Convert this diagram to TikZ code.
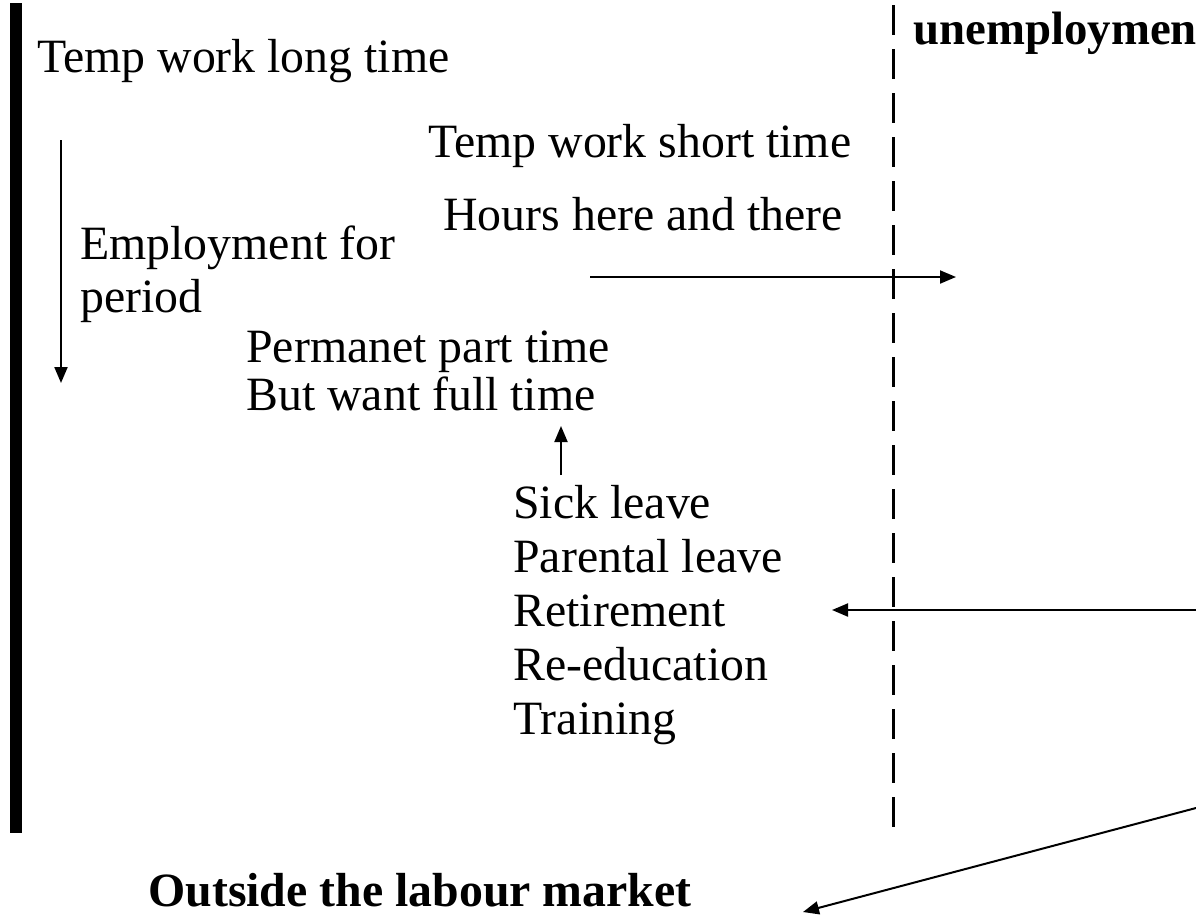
\documentclass[tikz,border=0pt]{standalone}
\usepackage{fontspec}
\setmainfont{Liberation Serif}
\usetikzlibrary{arrows.meta}

\begin{document}
\begin{tikzpicture}[x=0.5pt,y=-0.5pt,
    lbl/.style={anchor=base west,inner sep=0pt,font=\fontsize{23.9}{28}\selectfont},
    hdr/.style={lbl,font=\fontsize{23.9}{28}\selectfont\bfseries},
    flow/.style={line width=1pt,-{Triangle[length=8pt,width=6.5pt]}}]
    \useasboundingbox (0,0) rectangle (1196,918);
    \draw[line width=6pt] (15.5,3) -- (15.5,833);
    \draw[line width=1.5pt,dash pattern=on 15pt off 7pt,dash phase=-2.5pt] (893,0) -- (893,830);
    \node[lbl] (longtime) at (37,72) {Temp work long time};
    \node[hdr,font=\fontsize{23.4}{28}\selectfont\bfseries] (unemp) at (913,44) {unemploymen};
    \node[lbl] (shorttime) at (428,157) {Temp work short time};
    \node[lbl] (hours) at (443,230) {Hours here and there};
    \node[lbl] (period1) at (80,259) {Employment for};
    \node[lbl] (period2) at (80,312) {period};
    \node[lbl] (parttime) at (246,362) {Permanet part time};
    \node[lbl] (fulltime) at (246,410) {But want full time};
    \node[lbl] (sick) at (513,518) {Sick leave};
    \node[lbl] (parental) at (513,572) {Parental leave};
    \node[lbl] (retire) at (513,626) {Retirement};
    \node[lbl] (reedu) at (513,680) {Re-education};
    \node[lbl] (training) at (513,734) {Training};
    \node[hdr] (outside) at (148,906) {Outside the labour market};
    \coordinate (down top) at (61,140);
    \coordinate (down end) at (61,383);
    \coordinate (out start) at (590,277);
    \coordinate (out end) at (956,277);
    \coordinate (up start) at (561,475);
    \coordinate (up end) at (561,426);
    \coordinate (back start) at (1196,610);
    \coordinate (back end) at (832,610);
    \coordinate (leave start) at (1196,808);
    \coordinate (leave end) at (803,912);
    \draw[flow] (down top) -- (down end);
    \draw[flow] (out start) -- (out end);
    \draw[flow] (up start) -- (up end);
    \draw[flow] (back start) -- (back end);
    \draw[flow] (leave start) -- (leave end);
\end{tikzpicture}
\end{document}
